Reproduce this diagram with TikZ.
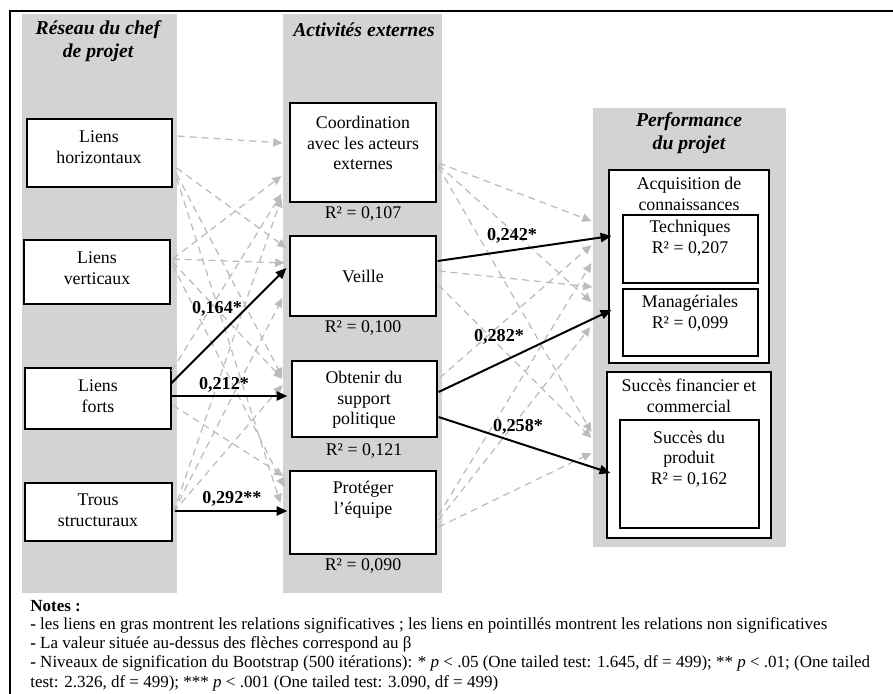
\documentclass[tikz,border=0pt]{standalone}
\usepackage{fontspec}
\setmainfont{Liberation Serif}
\usetikzlibrary{arrows.meta,calc,fit}
\definecolor{colgray}{RGB}{211,211,211}
\definecolor{dashgray}{RGB}{188,188,188}
\begin{document}
\begin{tikzpicture}[x=0.6pt,y=-0.6pt,
  box/.style={draw=black,line width=0.7pt,fill=white,inner sep=0pt},
  txt/.style={align=center,inner sep=0pt,font=\fontsize{10.7}{12.4}\selectfont},
  hdr/.style={align=center,inner sep=0pt,font=\fontsize{11.8}{13.8}\selectfont\bfseries\itshape},
  dsh/.style={draw=dashgray,line width=0.75pt,dash pattern=on 4.2pt off 3pt,-{Triangle[length=5.5pt,width=5pt]}},
  sig/.style={draw=black,line width=1.2pt,-{Triangle[length=6.5pt,width=5.5pt]}},
  lab/.style={inner sep=0pt,font=\fontsize{10.9}{12.4}\selectfont\bfseries},
  note/.style={anchor=west,inner sep=0pt,font=\fontsize{10.2}{11.4}\selectfont}]
\useasboundingbox (0,0) rectangle (893,693);
% outer frame
\draw[line width=1.1pt] (10,11) rectangle (905,710);
% gray columns
\fill[colgray] (22,14) rectangle (177,593);
\fill[colgray] (283,14) rectangle (442,593);
\fill[colgray] (593,108) rectangle (786,547);
% headers
\node[hdr] (h1) at (98,41) {Réseau du chef\\de projet};
\node[hdr] (h2) at (364,30) {Activités externes};
\node[hdr] (h3) at (689,133) {Performance\\du projet};
% left boxes
\node[box,fit={(27,119)(172,187)}] (lh) {};
\node[box,fit={(24,240)(170,304)}] (lv) {};
\node[box,fit={(25,368)(171,429)}] (lf) {};
\node[box,fit={(25,483)(172,541)}] (ts) {};
\node[txt] at (99,147.5) {Liens\\horizontaux};
\node[txt] at (97,268.5) {Liens\\verticaux};
\node[txt] at (98,396.5) {Liens\\forts};
\node[txt] at (98,510.5) {Trous\\structuraux};
% middle boxes
\node[box,fit={(290,103)(436,202)}] (coord) {};
\node[box,fit={(290,236)(436,316)}] (veille) {};
\node[box,fit={(292,361)(437,437)}] (obt) {};
\node[box,fit={(290,471)(436,554)}] (prot) {};
\node[txt] at (363,143) {Coordination\\avec les acteurs\\externes};
\node[txt] at (363,214) {R² = 0,107};
\node[txt] at (363,276) {Veille};
\node[txt] at (363,328) {R² = 0,100};
\node[txt] at (364,400) {Obtenir du\\support\\politique};
\node[txt] at (364,451) {R² = 0,121};
\node[txt] at (363,499.5) {Protéger\\l’équipe};
\node[txt] at (363,566) {R² = 0,090};
% right boxes
\node[box,fit={(609,170)(769,363)}] (acq) {};
\node[box,fit={(623,215)(758,283)}] (tech) {};
\node[box,fit={(623,289)(758,356)}] (man) {};
\node[box,fit={(607,372)(771,538)}] (fin) {};
\node[box,fit={(620,420)(759,528)}] (prod) {};
\node[txt] at (689,194) {Acquisition de\\connaissances};
\node[txt] at (690,238.5) {Techniques\\R² = 0,207};
\node[txt] at (690,313.5) {Managériales\\R² = 0,099};
\node[txt] at (689,395.5) {Succès financier et\\commercial};
\node[txt] at (689,459) {Succès du\\produit\\R² = 0,162};
% dashed non-significant links (left)
\draw[dsh] ($(lh.east)+(5,-17)$) -- ($(coord.west)+(-7,-9.5)$);
\draw[dsh] ($(lh.east)+(4,15)$) -- ($(veille.west)+(-3,-28)$);
\draw[dsh] ($(lh.east)+(4,21)$) -- ($(obt.west)+(-9,-22)$);
\draw[dsh] ($(lh.east)+(4,25)$) -- ($(prot.west)+(-9,-9.5)$);
\draw[dsh] ($(lv.east)+(2,-13)$) -- ($(coord.west)+(-8,23.5)$);
\draw[dsh] ($(lv.east)+(2,-13)$) -- ($(veille.west)+(-5,-13)$);
\draw[dsh] ($(lv.east)+(2,-10)$) -- ($(obt.west)+(-9,-20)$);
\draw[dsh] ($(lv.east)+(2,-7)$) -- ($(prot.west)+(-5,-25.5)$);
\draw[dsh] ($(lf.east)+(0,-27.5)$) -- ($(coord.west)+(-8,41.5)$);
\draw[dsh] ($(lf.east)+(1,6.5)$) -- ($(prot.west)+(-6,-36.5)$);
\draw[dsh] ($(ts.east)+(1,0)$) -- ($(coord.west)+(-8,45.5)$);
\draw[dsh] ($(ts.east)+(1,0)$) -- ($(veille.west)+(-7,22)$);
\draw[dsh] ($(ts.east)+(1,0)$) -- ($(obt.west)+(-9,-14)$);
% dashed non-significant links (right)
\draw[dsh] ($(coord.east)+(2,10.5)$) -- ($(tech.west)+(-31,-28)$);
\draw[dsh] ($(coord.east)+(2,12.5)$) -- ($(man.west)+(-31,-20.5)$);
\draw[dsh] ($(coord.east)+(2,14.5)$) -- ($(prod.west)+(-28,-42)$);
\draw[dsh] ($(veille.east)+(2,-5)$) -- ($(man.west)+(-30,-35.5)$);
\draw[dsh] ($(veille.east)+(2,9)$) -- ($(prod.west)+(-28,-36)$);
\draw[dsh] ($(obt.east)+(2,-21)$) -- ($(tech.west)+(-31,-4)$);
\draw[dsh] ($(prot.east)+(2,2.5)$) -- ($(tech.west)+(-31,14)$);
\draw[dsh] ($(prot.east)+(2,7.5)$) -- ($(man.west)+(-32,4.5)$);
\draw[dsh] ($(prot.east)+(2,14.5)$) -- ($(prod.west)+(-28,-21)$);
% significant links
\draw[sig] ($(lf.east)+(0,-15.5)$) -- ($(veille.west)+(-3,-8)$);
\draw[sig] ($(lf.east)+(0,-2.5)$) -- ($(obt.west)+(-4,-3)$);
\draw[sig] ($(ts.east)+(2,-1)$) -- ($(prot.west)+(-2,-1.5)$);
\draw[sig] ($(veille.east)+(1,-15)$) -- ($(tech.west)+(-11,-13)$);
\draw[sig] ($(obt.east)+(1,-7)$) -- ($(man.west)+(-11,-12.5)$);
\draw[sig] ($(obt.east)+(1,18)$) -- ($(prod.west)+(-9,-1)$);
% coefficients
\node[lab] (l1) at (217,309) {0,164*};
\node[lab] (l2) at (224,385) {0,212*};
\node[lab] (l3) at (232,499) {0,292**};
\node[lab] (l4) at (512,236) {0,242*};
\node[lab] (l5) at (499,337) {0,282*};
\node[lab] (l6) at (518,427) {0,258*};
% notes
\node[note,font=\fontsize{10.2}{11.4}\selectfont\bfseries] (n0) at (30,606) {Notes :};
\node[note] (n1) at (30,625) {\textbf{-} les liens en gras montrent les relations significatives ; les liens en pointillés montrent les relations non significatives};
\node[note] (n2) at (30,644) {\textbf{-} La valeur située au-dessus des flèches correspond au β};
\node[note] (n3) at (30,663) {\textbf{-} Niveaux de signification du Bootstrap (500 itérations): * \textit{p} < .05 (One tailed test: 1.645, df = 499); ** \textit{p} < .01; (One tailed};
\node[note] (n4) at (30,683) {test: 2.326, df = 499); *** \textit{p} < .001 (One tailed test: 3.090, df = 499)};
\end{tikzpicture}
\end{document}
